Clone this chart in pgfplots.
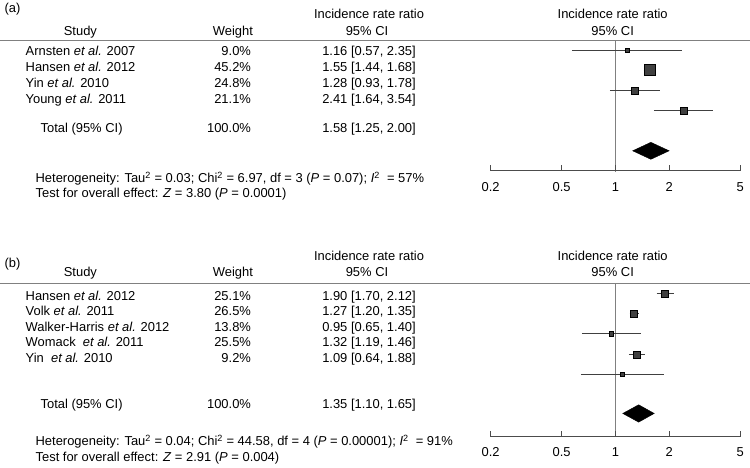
\documentclass[border=0pt]{standalone}
\usepackage{fontspec}
\setmainfont{Liberation Sans}
\usepackage{pgfplots}
\pgfplotsset{compat=1.18}

\definecolor{rulegray}{gray}{0.5}
\definecolor{sqgray}{gray}{0.25}
\definecolor{axgray}{gray}{0.3}

\pgfplotsset{
  forestax/.style={
    scale only axis, width=250bp,
    xmin=0.2, xmax=5,
    axis x line=bottom, axis y line=none,
    x axis line style={draw=none},
    xtick={0.2,0.5,1,2,5}, xticklabels={0.2,0.5,1,2,5},
    xminorticks=false, major tick length=0pt,
    xticklabel style={anchor=base, yshift=-20.5bp, inner sep=0pt},
    clip=false,
  },
  axline/.style={color=axgray, line width=0.8bp},
  axticks/.style={only marks, mark=|, mark size=2.8bp, mark options={color=axgray, line width=0.8bp}},
  ci/.style={color=sqgray, line width=0.8bp, mark=none},
  sq/.style={only marks, mark=square*, mark options={draw=none, fill=sqgray}},
}

\newcommand\txt{\fontsize{13}{15}\selectfont}

\begin{document}
\begin{tikzpicture}[font=\txt]
\path (0,0) rectangle (750bp,-468bp);
\begin{scope}[every node/.style={inner sep=0pt}]
% ---------- panel (a) ----------
\node[anchor=base west] at (4bp,-12.5bp) {(a)};
\node[anchor=base] at (369bp,-18.5bp) {Incidence rate ratio};
\node[anchor=base] at (80bp,-35.5bp) {Study};
\node[anchor=base east] at (253bp,-35.5bp) {Weight};
\node[anchor=base] at (367bp,-35.5bp) {95\% CI};
\node[anchor=base] at (613bp,-18.5bp) {Incidence rate ratio};
\node[anchor=base] at (613bp,-35.5bp) {95\% CI};
\draw[rulegray, line width=1bp] (0,-41bp) -- (750bp,-41bp);

\node[anchor=base west] at (25bp,-55.5bp) {Arnsten \textit{et al.} 2007};
\node[anchor=base west] at (25bp,-71.5bp) {Hansen \textit{et al.} 2012};
\node[anchor=base west] at (25bp,-87.5bp) {Yin \textit{et al.} 2010};
\node[anchor=base west] at (25bp,-103.5bp) {Young \textit{et al.} 2011};
\node[anchor=base east] at (251bp,-55.5bp) {9.0\%};
\node[anchor=base east] at (251bp,-71.5bp) {45.2\%};
\node[anchor=base east] at (251bp,-87.5bp) {24.8\%};
\node[anchor=base east] at (251bp,-103.5bp) {21.1\%};
\node[anchor=base] at (369bp,-55.5bp) {1.16 [0.57, 2.35]};
\node[anchor=base] at (369bp,-71.5bp) {1.55 [1.44, 1.68]};
\node[anchor=base] at (369bp,-87.5bp) {1.28 [0.93, 1.78]};
\node[anchor=base] at (369bp,-103.5bp) {2.41 [1.64, 3.54]};
\node[anchor=base west] at (40bp,-133bp) {Total (95\% CI)};
\node[anchor=base east] at (251bp,-133bp) {100.0\%};
\node[anchor=base] at (369bp,-133bp) {1.58 [1.25, 2.00]};
\node[anchor=base west] at (35bp,-182.7bp) {Heterogeneity: Tau\textsuperscript{2} = 0.03; Chi\textsuperscript{2} = 6.97, df = 3 (\textit{P} = 0.07); \textit{I}\textsuperscript{2}\ \ = 57\%};
\node[anchor=base west] at (35bp,-197.7bp) {Test for overall effect: \textit{Z} = 3.80 (\textit{P} = 0.0001)};

% ---------- panel (b) ----------
\node[anchor=base west] at (4bp,-267.7bp) {(b)};
\node[anchor=base] at (369bp,-260.7bp) {Incidence rate ratio};
\node[anchor=base] at (80bp,-276.7bp) {Study};
\node[anchor=base east] at (253bp,-276.7bp) {Weight};
\node[anchor=base] at (367bp,-276.7bp) {95\% CI};
\node[anchor=base] at (613bp,-260.7bp) {Incidence rate ratio};
\node[anchor=base] at (613bp,-276.7bp) {95\% CI};
\draw[rulegray, line width=1bp] (0,-284bp) -- (750bp,-284bp);

\node[anchor=base west] at (25bp,-300.7bp) {Hansen \textit{et al.} 2012};
\node[anchor=base west] at (25bp,-316.2bp) {Volk \textit{et al.} 2011};
\node[anchor=base west] at (25bp,-331.7bp) {Walker-Harris \textit{et al.} 2012};
\node[anchor=base west] at (25bp,-347.2bp) {Womack\ \ \textit{et al.} 2011};
\node[anchor=base west] at (25bp,-363.2bp) {Yin\ \ \textit{et al.} 2010};
\node[anchor=base east] at (251bp,-300.7bp) {25.1\%};
\node[anchor=base east] at (251bp,-316.2bp) {26.5\%};
\node[anchor=base east] at (251bp,-331.7bp) {13.8\%};
\node[anchor=base east] at (251bp,-347.2bp) {25.5\%};
\node[anchor=base east] at (251bp,-363.2bp) {9.2\%};
\node[anchor=base] at (369bp,-300.7bp) {1.90 [1.70, 2.12]};
\node[anchor=base] at (369bp,-316.2bp) {1.27 [1.20, 1.35]};
\node[anchor=base] at (369bp,-331.7bp) {0.95 [0.65, 1.40]};
\node[anchor=base] at (369bp,-347.2bp) {1.32 [1.19, 1.46]};
\node[anchor=base] at (369bp,-363.2bp) {1.09 [0.64, 1.88]};
\node[anchor=base west] at (40bp,-408.7bp) {Total (95\% CI)};
\node[anchor=base east] at (251bp,-408.7bp) {100.0\%};
\node[anchor=base] at (369bp,-408.7bp) {1.35 [1.10, 1.65]};
\node[anchor=base west] at (35bp,-446.5bp) {Heterogeneity: Tau\textsuperscript{2} = 0.04; Chi\textsuperscript{2} = 44.58, df = 4 (\textit{P} = 0.00001); \textit{I}\textsuperscript{2}\ \ = 91\%};
\node[anchor=base west] at (35bp,-462bp) {Test for overall effect: \textit{Z} = 2.91 (\textit{P} = 0.004)};
\end{scope}

\begin{axis}[forestax, xmode=log, height=130bp, ymin=-171, ymax=-41, at={(490.7bp,-171bp)}]
% axis line and ticks
\addplot[axline] coordinates {(0.2,-171) (5,-171)};
\addplot[axticks] coordinates {(0.2,-168.5) (0.5,-168.5) (1,-168.5) (2,-168.5) (5,-168.5)};
% line of no effect
\addplot[rulegray, line width=1.3bp] coordinates {(1,-41) (1,-172)};
% Arnsten
\addplot[ci] coordinates {(0.57,-50) (2.35,-50)};
\addplot[sq, mark size=2bp] coordinates {(1.16,-50)};
% Hansen
\addplot[ci] coordinates {(1.44,-70) (1.68,-70)};
\addplot[sq, mark size=5.5bp] coordinates {(1.55,-70)};
% Yin
\addplot[ci] coordinates {(0.93,-91) (1.78,-91)};
\addplot[sq, mark size=3.5bp] coordinates {(1.28,-91)};
% Young
\addplot[ci] coordinates {(1.64,-111) (3.54,-111)};
\addplot[sq, mark size=3.3bp] coordinates {(2.41,-111)};
% total
\addplot[fill=black, draw=black] coordinates {(1.25,-151) (1.58,-142.5) (2.00,-151) (1.58,-159.5)} -- cycle;
\end{axis}

\begin{axis}[forestax, xmode=log, height=153bp, ymin=-437, ymax=-284, at={(490.7bp,-437bp)}]
% axis line and ticks
\addplot[axline] coordinates {(0.2,-437) (5,-437)};
\addplot[axticks] coordinates {(0.2,-434.5) (0.5,-434.5) (1,-434.5) (2,-434.5) (5,-434.5)};
% line of no effect
\addplot[rulegray, line width=1.3bp] coordinates {(1,-284) (1,-438)};
% Hansen
\addplot[ci] coordinates {(1.70,-294) (2.12,-294)};
\addplot[sq, mark size=3.5bp] coordinates {(1.90,-294)};
% Volk
\addplot[ci] coordinates {(1.20,-314) (1.35,-314)};
\addplot[sq, mark size=3.5bp] coordinates {(1.27,-314)};
% Walker-Harris
\addplot[ci] coordinates {(0.65,-334) (1.40,-334)};
\addplot[sq, mark size=2.2bp] coordinates {(0.95,-334)};
% Womack
\addplot[ci] coordinates {(1.19,-355) (1.46,-355)};
\addplot[sq, mark size=3.5bp] coordinates {(1.32,-355)};
% Yin
\addplot[ci] coordinates {(0.64,-375) (1.88,-375)};
\addplot[sq, mark size=2bp] coordinates {(1.09,-375)};
% total
\addplot[fill=black, draw=black] coordinates {(1.10,-414) (1.35,-405.3) (1.65,-414) (1.35,-422.7)} -- cycle;
\end{axis}
\end{tikzpicture}
\end{document}
